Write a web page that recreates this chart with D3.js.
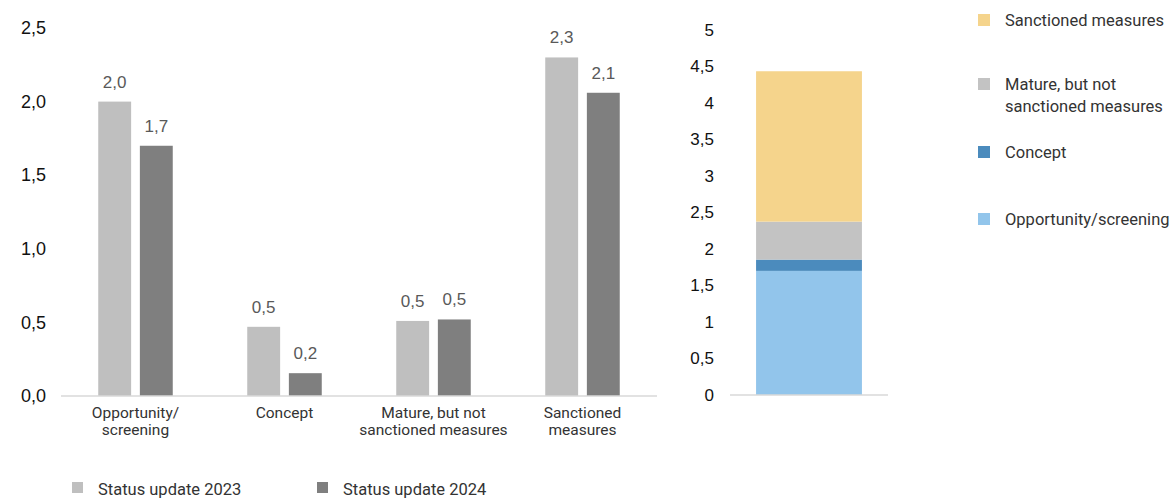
<!DOCTYPE html>
<meta charset="utf-8">
<head>
<style>
body { margin: 0; background: #fff; }
svg { display: block; }
.tick text { font-family: "Liberation Sans", Arial, sans-serif; }
.lbl { font-family: Roboto, sans-serif; fill: #333; }
</style>
</head>
<body>
<script src="https://cdn.jsdelivr.net/npm/d3@7"></script>
<svg id="chart" width="1176" height="499"></svg>
<script>

// data
var categories = ["Opportunity/screening", "Concept", "Mature, but not sanctioned measures", "Sanctioned measures"];
var catLines = [["Opportunity/", "screening"], ["Concept"], ["Mature, but not", "sanctioned measures"], ["Sanctioned", "measures"]];
var series = ["Status update 2023", "Status update 2024"];
var values2023 = [2.0, 0.47, 0.51, 2.30];
var values2024 = [1.70, 0.155, 0.52, 2.06];
var leftTicks = [0, 0.5, 1.0, 1.5, 2.0, 2.5];
var rightTicks = [0, 0.5, 1, 1.5, 2, 2.5, 3, 3.5, 4, 4.5, 5];
var stackLegend = [["Sanctioned measures"], ["Mature, but not", "sanctioned measures"], ["Concept"], ["Opportunity/screening"]];

var barColors = ["#bfbfbf", "#7f7f7f"];
var stackColors = ["#92c5eb", "#4b8bbd", "#c3c3c3", "#f5d48c"];

var svg = d3.select("#chart");
var comma = function(d, dec) { return d3.format("." + dec + "f")(d).replace(".", ","); };

// ---- left grouped chart
var y = d3.scaleLinear().domain([0, 2.5]).range([396, 28]);
var x0 = d3.scaleBand().domain(categories).range([61, 657]).paddingInner(0.5).paddingOuter(0.25);
var x1 = d3.scaleBand().domain(series).range([0, x0.bandwidth()]).paddingInner(0.21);

var rows = categories.map(function(c, i) { return {cat: c, vals: [values2023[i], values2024[i]]}; });

var groups = svg.selectAll(".grp").data(rows).enter().append("g")
    .attr("transform", function(d) { return "translate(" + x0(d.cat) + ",0)"; });

groups.selectAll("rect")
  .data(function(d) { return d.vals.map(function(v, j) { return {s: series[j], v: v, j: j}; }); })
  .enter().append("rect")
    .attr("x", function(d) { return x1(d.s); })
    .attr("y", function(d) { return y(d.v); })
    .attr("width", x1.bandwidth())
    .attr("height", function(d) { return y(0) - y(d.v); })
    .attr("fill", function(d) { return barColors[d.j]; });

groups.selectAll("text.val")
  .data(function(d) { return d.vals.map(function(v, j) { return {s: series[j], v: v}; }); })
  .enter().append("text")
    .attr("class", "val")
    .attr("x", function(d) { return x1(d.s) + x1.bandwidth() / 2; })
    .attr("y", function(d) { return y(d.v) - 14; })
    .attr("text-anchor", "middle")
    .style("font", "17px 'Liberation Sans', Arial, sans-serif")
    .attr("fill", "#595959")
    .text(function(d) { return comma(d.v, 1); });

svg.append("line")
    .attr("x1", 61).attr("x2", 657)
    .attr("y1", y(0)).attr("y2", y(0))
    .attr("stroke", "#d9d9d9").attr("stroke-width", 1.5);

var yAxis = svg.append("g")
    .attr("transform", "translate(46,0)")
    .call(d3.axisLeft(y).tickValues(leftTicks).tickSize(0).tickPadding(0).tickFormat(function(d) { return comma(d, 1); }));
yAxis.select(".domain").remove();
yAxis.selectAll("text").style("font-size", "18px").attr("fill", "#111");

var catText = svg.selectAll(".cat").data(categories).enter().append("text")
    .attr("class", "lbl")
    .attr("text-anchor", "middle")
    .style("font-size", "15.5px")
    .attr("x", function(d) { return x0(d) + x0.bandwidth() / 2; })
    .attr("y", 418);
catText.selectAll("tspan")
  .data(function(d, i) { return catLines[i]; })
  .enter().append("tspan")
    .attr("x", function() { return +d3.select(this.parentNode).attr("x"); })
    .attr("dy", function(d, i) { return i ? 17 : 0; })
    .text(function(d) { return d; });

// bottom legend
var bl = svg.selectAll(".bleg").data(series).enter().append("g")
    .attr("transform", function(d, i) { return "translate(72," + 482 + ")translate(" + (i * 245) + ",0)"; });
bl.append("rect").attr("width", 11).attr("height", 11).attr("fill", function(d, i) { return barColors[i]; });
bl.append("text").attr("class", "lbl").attr("x", 26).attr("y", 13)
    .style("font-size", "16.5px").text(function(d) { return d; });

// ---- right stacked chart
var yr = d3.scaleLinear().domain([0, 5]).range([395, 30]);
var xr = d3.scaleBand().domain(["total"]).range([730, 888]).paddingInner(0.33).paddingOuter(0.165);

var stackRow = {cat: "total"};
categories.forEach(function(c, i) { stackRow[c] = values2024[i]; });
var stacked = d3.stack().keys(categories)([stackRow]);

svg.selectAll(".stk").data(stacked).enter().append("rect")
    .attr("x", xr("total"))
    .attr("width", xr.bandwidth())
    .attr("y", function(d) { return yr(d[0][1]); })
    .attr("height", function(d) { return yr(d[0][0]) - yr(d[0][1]); })
    .attr("fill", function(d, i) { return stackColors[i]; });

svg.append("line")
    .attr("x1", 730).attr("x2", 888)
    .attr("y1", yr(0)).attr("y2", yr(0))
    .attr("stroke", "#d9d9d9").attr("stroke-width", 1.5);

var yrAxis = svg.append("g")
    .attr("transform", "translate(714,0)")
    .call(d3.axisLeft(yr).tickValues(rightTicks).tickSize(0).tickPadding(0).tickFormat(function(d) { return String(d).replace(".", ","); }));
yrAxis.select(".domain").remove();
yrAxis.selectAll("text").style("font-size", "17px").attr("fill", "#111");

// right legend
var legY = [20, 84, 152, 219];
var legColors = stackColors.slice().reverse();
var rl = svg.selectAll(".rleg").data(stackLegend).enter().append("g")
    .attr("transform", function(d, i) { return "translate(978," + legY[i] + ")"; });
rl.append("rect").attr("y", -6).attr("width", 12).attr("height", 12).attr("fill", function(d, i) { return legColors[i]; });
var rt = rl.append("text").attr("class", "lbl").attr("x", 27).attr("y", 6).style("font-size", "16.5px");
rt.selectAll("tspan").data(function(d) { return d; }).enter().append("tspan")
    .attr("x", 27).attr("dy", function(d, i) { return i ? 22 : 0; })
    .text(function(d) { return d; });

</script>
</body>
